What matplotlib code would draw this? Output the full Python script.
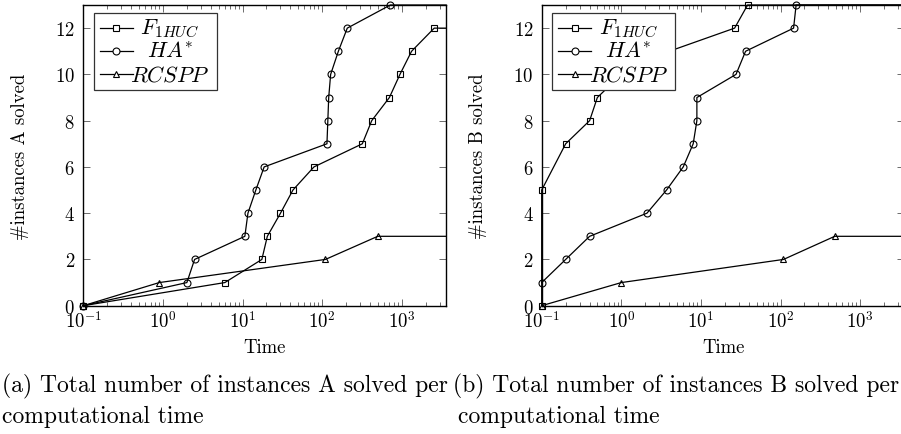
import matplotlib
matplotlib.use("Agg")
import matplotlib.pyplot as plt
import matplotlib.patches as patches

plt.rcParams["font.family"] = "serif"
plt.rcParams["font.serif"] = ["cmr10"]
plt.rcParams["mathtext.fontset"] = "cm"
plt.rcParams["axes.unicode_minus"] = False

# --- data (time in seconds, cumulative number of instances solved) ---
series_names = [r"$F_{1HUC}$", r"$HA^{*}$", r"$RCSPP$"]
series_markers = ["s", "o", "^"]

a_f1huc_t = [0.1, 6, 17.5, 20.5, 30, 43, 79, 320, 420, 700, 950, 1330, 2560, 3600]
a_f1huc_n = [0, 1, 2, 3, 4, 5, 6, 7, 8, 9, 10, 11, 12, 12]
a_ha_t = [0.1, 2.0, 2.5, 10.7, 11.7, 14.7, 18.7, 115, 118, 121, 128, 160, 207, 720, 3600]
a_ha_n = [0, 1, 2, 3, 4, 5, 6, 7, 8, 9, 10, 11, 12, 13, 13]
a_rcspp_t = [0.1, 0.9, 110, 500, 3600]
a_rcspp_n = [0, 1, 2, 3, 3]

b_f1huc_t = [0.1, 0.1, 0.2, 0.4, 0.5, 1.0, 4.0, 26.5, 38.6, 3600]
b_f1huc_n = [0, 5, 7, 8, 9, 10, 11, 12, 13, 13]
b_ha_t = [0.1, 0.2, 0.4, 2.1, 3.7, 6.0, 8.0, 8.9, 8.9, 27.6, 36.4, 146, 157, 3600]
b_ha_n = [1, 2, 3, 4, 5, 6, 7, 8, 9, 10, 11, 12, 13, 13]
b_rcspp_t = [0.1, 1.0, 109, 480, 3600]
b_rcspp_n = [0, 1, 2, 3, 3]

x_ticks = [0.1, 1, 10, 100, 1000]
x_ticklabels = [r"$10^{-1}$", r"$10^{0}$", r"$10^{1}$", r"$10^{2}$", r"$10^{3}$"]
y_ticks = [0, 2, 4, 6, 8, 10, 12]

W, H = 901, 435
LW = 0.9
MS = {"s": 4.8, "o": 5.0, "^": 4.0}


def style_axes(ax, ylabel):
    ax.set_xscale("log")
    ax.set_xlim(0.1, 3600)
    ax.set_ylim(0, 13)
    ax.set_xticks(x_ticks)
    ax.set_xticklabels(x_ticklabels)
    ax.set_yticks(y_ticks)
    ax.set_yticklabels([f"${v}$" for v in y_ticks])
    ax.tick_params(which="both", direction="in", top=True, right=True,
                   labelsize=13.5, width=0.6, color="#555555")
    ax.tick_params(axis="x", which="major", length=5, pad=3)
    ax.tick_params(axis="x", which="minor", length=3)
    ax.tick_params(axis="y", which="major", length=5, pad=6)
    for s in ax.spines.values():
        s.set_linewidth(1.0)
    ax.set_xlabel("Time", fontsize=13.5)
    ax.xaxis.set_label_coords(0.5, -0.137)
    ax.xaxis.label.set_va("center")
    ax.set_ylabel(ylabel, fontsize=13.5)
    ax.yaxis.set_label_coords(-0.175, 0.5)
    ax.yaxis.label.set_va("center")


def draw_series(ax, ts, ns):
    for t, n, m in zip(ts, ns, series_markers):
        ax.plot(t, n, color="black", lw=LW, marker=m, ms=MS[m], mfc="none",
                mec="black", mew=0.8, markevery=list(range(len(t) - 1)),
                clip_on=False, zorder=3)


def draw_legend(ax):
    box = patches.Rectangle((0.0295, 0.718), 0.3385, 0.254, transform=ax.transAxes,
                            facecolor="white", edgecolor="#333333", lw=0.9, zorder=5)
    ax.add_patch(box)
    rows = [0.9235, 0.847, 0.7705]
    for name, m, y in zip(series_names, series_markers, rows):
        ax.plot([0.046, 0.137], [y, y], transform=ax.transAxes, color="black",
                lw=LW, zorder=6, clip_on=False)
        ax.plot([0.0915], [y], transform=ax.transAxes, marker=m, ms=MS[m],
                mfc="white", mec="black", mew=0.8, zorder=7, clip_on=False)
        ax.text(0.239, y, name, transform=ax.transAxes, ha="center", va="center",
                fontsize=16, zorder=7)


fig = plt.figure(figsize=(W / 100, H / 100), dpi=100)
ax_a = fig.add_axes([83.3 / W, 1 - 306.7 / H, 362.7 / W, 300.7 / H])
ax_b = fig.add_axes([541.7 / W, 1 - 306.7 / H, 362.7 / W, 300.7 / H])

draw_series(ax_a, [a_f1huc_t, a_ha_t, a_rcspp_t], [a_f1huc_n, a_ha_n, a_rcspp_n])
draw_series(ax_b, [b_f1huc_t, b_ha_t, b_rcspp_t], [b_f1huc_n, b_ha_n, b_rcspp_n])

style_axes(ax_a, "#instances A solved")
style_axes(ax_b, "#instances B solved")
draw_legend(ax_a)
draw_legend(ax_b)

cap = 17
fig.text(2 / W, 1 - 386 / H, "(a) Total number of instances A solved per", fontsize=cap, va="center")
fig.text(2 / W, 1 - 417 / H, "computational time", fontsize=cap, va="center")
fig.text(453 / W, 1 - 386 / H, "(b) Total number of instances B solved per", fontsize=cap, va="center")
fig.text(458 / W, 1 - 417 / H, "computational time", fontsize=cap, va="center")

fig.savefig("out.png", dpi=100)
